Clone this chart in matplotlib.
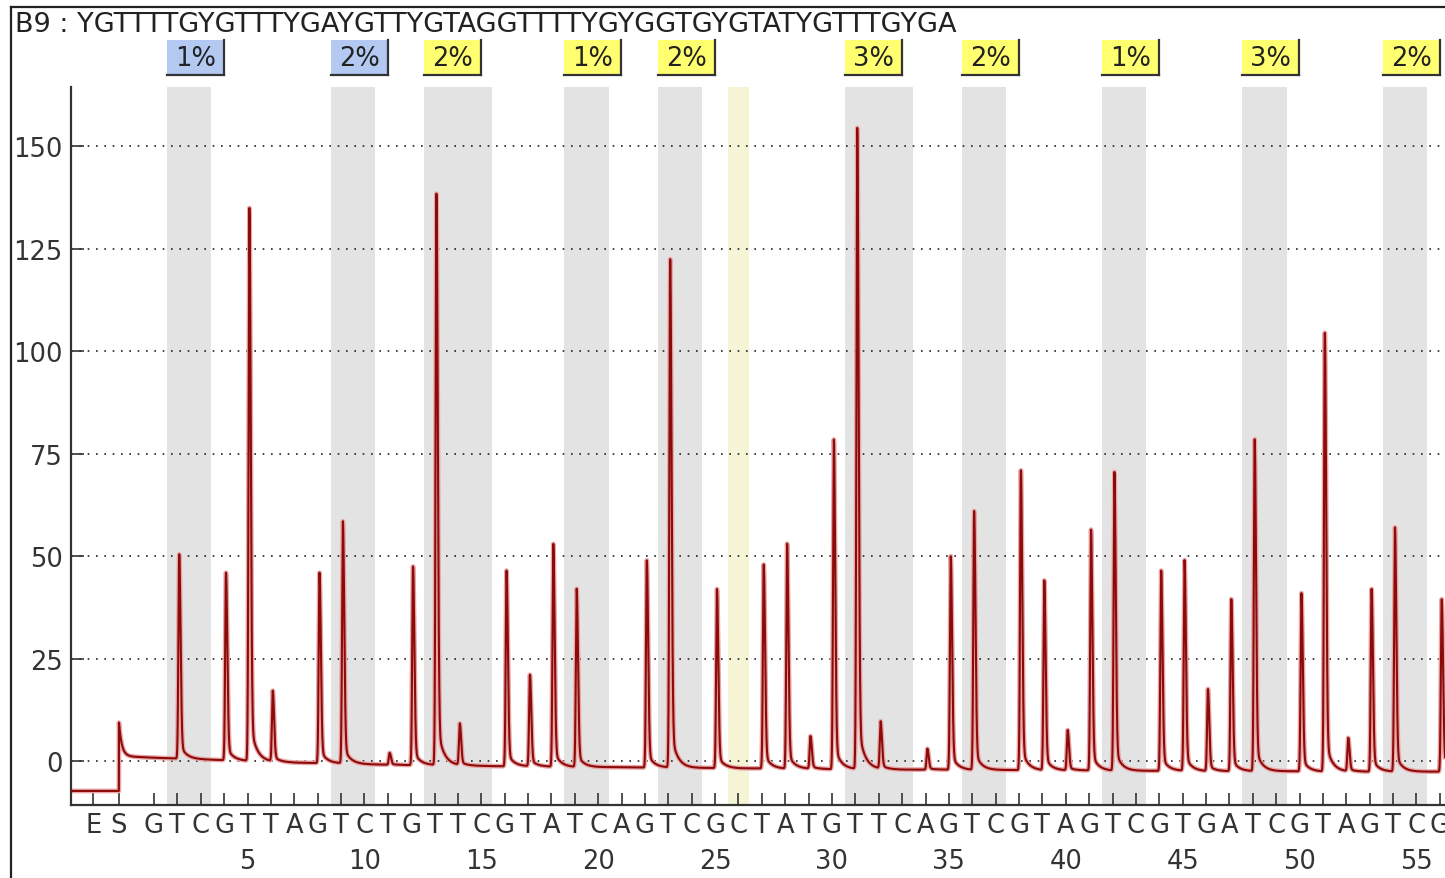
import numpy as np
import matplotlib
matplotlib.use("Agg")
import matplotlib.pyplot as plt
from matplotlib.patches import Rectangle
from matplotlib.lines import Line2D
from matplotlib.transforms import blended_transform_factory

plt.rcParams['font.family'] = ['DejaVu Sans']

title = "B9 : YGTTTTGYGTTTYGAYGTTYGTAGGTTTTYGYGGTGYGTATYGTTTGYGA"
dispensations = list("GTCGTTAGTCTGTTCGTATCAGTCGCTATGTTCAGTCGTAGTCGTGATCGTAGTCG")
# peak top values for dispensations 1..56 (0 = no peak)
peak_values = [0, 50.5, 0, 46, 135, 17, 0, 46, 58.5, 0,
               2, 47.5, 138.5, 9, 0, 46.5, 21, 53, 42, 0,
               0, 49, 122.5, 0, 42, 0, 48, 53, 6, 78.5,
               154.5, 9.5, 0, 3, 50, 61, 0, 71, 44, 7.5,
               56.5, 70.5, 0, 46.5, 49, 17.5, 39.5, 78.5, 0, 41,
               104.5, 5.5, 42, 57, 0, 39.5]
baseline = [0.8, 0.6, 0.4, 0.2, 0.0, -0.2, -0.4, -0.5, -0.6, -0.8,
            -0.9, -1.0, -1.0, -1.1, -1.2, -1.3, -1.3, -1.4, -1.5, -1.5,
            -1.5, -1.6, -1.6, -1.7, -1.7, -1.8, -1.8, -1.9, -1.9, -2.0,
            -2.0, -2.0, -2.1, -2.1, -2.1, -2.2, -2.2, -2.2, -2.3, -2.3,
            -2.3, -2.4, -2.4, -2.4, -2.4, -2.5, -2.5, -2.5, -2.5, -2.5,
            -2.6, -2.6, -2.6, -2.6, -2.6, -2.6]
pre_level = -7.3
s_peak = 9.5
# highlighted regions (first, last dispensation), colour type and label
regions = [(2, 3), (9, 10), (13, 15), (19, 20), (23, 24), (31, 33),
           (36, 37), (42, 43), (48, 49), (54, 55)]
region_labels = ["1%", "2%", "2%", "1%", "2%", "3%", "2%", "1%", "3%", "2%"]
region_kind = ["blue", "blue", "yellow", "yellow", "yellow", "yellow",
               "yellow", "yellow", "yellow", "yellow"]
control_pos = [26]
yticks = [0, 25, 50, 75, 100, 125, 150]

W, H = 1445, 879
fig = plt.figure(figsize=(W / 100, H / 100), dpi=100)
ax = fig.add_axes([71 / W, (H - 806) / H, (W - 71) / W, (806 - 88) / H])
ax.set_xlim(-2.55, 56.22)
ax.set_ylim(-10.73, 164.4)

E_pos, S_pos = -1.6, -0.5
pos = np.arange(1, len(dispensations) + 1)

# bands
for (a, b) in regions:
    ax.axvspan(a - 0.45, b + 0.45, color='#e3e3e3', zorder=0, lw=0)
for c in control_pos:
    ax.axvspan(c - 0.45, c + 0.45, color='#f5f5d5', zorder=0, lw=0)

# grid
for yv in yticks:
    ax.axhline(yv, color='#222222', lw=1.2, ls=(0, (1, 4)), zorder=1)

# trace
x = np.arange(-2.55, 56.3, 0.004)
base = np.interp(x, np.concatenate([[S_pos], pos]), np.concatenate([[1.2], baseline]))
y = base.copy()
y[x < S_pos] = pre_level
tS = x - S_pos
m = tS >= 0
y[m] += (s_peak - 1.2) * np.exp(-tS[m] / 0.12)
for k, v, b in zip(pos, peak_values, baseline):
    if v <= 0:
        continue
    h = v - b
    t = x - (k + 0.08)
    rise = np.exp(-(t / 0.05) ** 2)
    fall = 0.92 * np.exp(-(t / 0.08) ** 2) + 0.08 * np.exp(-np.clip(t, 0, None) / 0.25)
    y += h * np.where(t < 0, rise, fall)
ax.plot(x, y, color='#eaa6a6', lw=3.4, zorder=2, solid_joinstyle='round')
ax.plot(x, y, color='#8b0b0b', lw=1.5, zorder=3)

# axes style
for s in ['top', 'right']:
    ax.spines[s].set_visible(False)
ax.spines['left'].set_color('#333333')
ax.spines['left'].set_linewidth(1.6)
ax.spines['bottom'].set_color('#333333')
ax.spines['bottom'].set_linewidth(1.6)
ax.set_yticks(yticks)
ax.tick_params(axis='y', direction='in', length=9, width=1.2, labelsize=18.5,
               pad=6, colors='#333333')
ax.set_xticks([E_pos, S_pos] + list(pos))
ax.set_xticklabels(['E', 'S'] + dispensations)
ax.tick_params(axis='x', direction='in', length=9, width=1.2, labelsize=18.5,
               pad=5, colors='#333333')
ax.set_facecolor('white')

trans = blended_transform_factory(ax.transData, fig.transFigure)
for n in range(5, 56, 5):
    ax.text(n, (H - 862) / H, str(n), transform=trans, ha='center', va='center',
            fontsize=18.5, color='#333333')

# labels boxes
for (a, b), lab, kind in zip(regions, region_labels, region_kind):
    left = a - 0.45
    wdt = 57 / 23.38
    col = '#b3c9f2' if kind == 'blue' else '#ffff70'
    y0 = (H - 76) / H
    hgt = 35 / H
    r = Rectangle((left, y0), wdt, hgt, transform=trans, facecolor=col,
                  edgecolor='none', clip_on=False, zorder=5)
    ax.add_patch(r)
    ax.add_line(Line2D([left + wdt, left + wdt], [y0, y0 + hgt], transform=trans,
                       color='#333333', lw=1.6, clip_on=False, zorder=6))
    ax.add_line(Line2D([left, left + wdt], [y0, y0], transform=trans,
                       color='#333333', lw=1.6, clip_on=False, zorder=6))
    ax.text(left + wdt / 2, y0 + hgt / 2, lab, transform=trans, ha='center',
            va='center', fontsize=18.5, color='#222222', zorder=7)

fig.text(15 / W, (H - 25) / H, title, ha='left', va='center', fontsize=19.5,
         color='#222222')

# outer frame
fig.add_artist(Line2D([11 / W, 11 / W], [0, (H - 8) / H], color='#222222', lw=1.6))
fig.add_artist(Line2D([11 / W, 1], [(H - 8) / H, (H - 8) / H], color='#222222', lw=1.6))

fig.savefig('out.png', dpi=100)
